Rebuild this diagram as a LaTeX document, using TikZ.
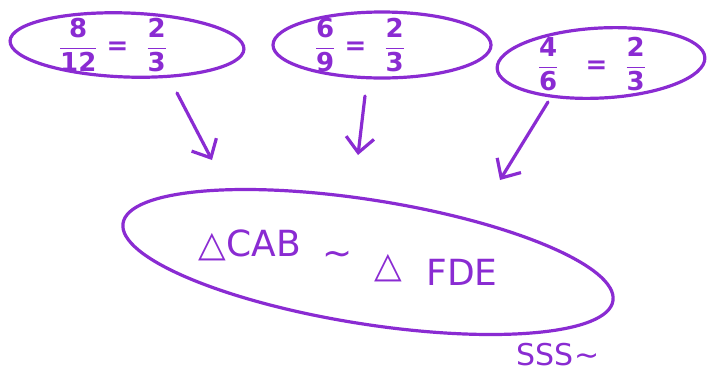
\documentclass[tikz,border=0pt]{standalone}
\usepackage{fontspec}
\usepackage{amsmath}
\setmainfont{DejaVu Sans}
\usetikzlibrary{shapes.geometric,arrows.meta}
\definecolor{pen}{RGB}{138,43,210}
\tikzset{
  blob/.style={draw=pen, line width=3.2pt, ellipse, inner sep=0pt, text=pen},
  arr/.style={draw=pen, line width=3.2pt, line cap=round, -{Straight Barb[length=15pt,width=28pt,line width=3.2pt]}},
  hand/.style={text=pen, inner sep=1pt, font=\fontsize{36}{38}\selectfont},
  frac/.style={text=pen, font=\fontsize{26}{28}\selectfont\bfseries}
}
\newcommand{\fr}[2]{\ensuremath{\dfrac{\text{#1}}{\text{#2}}}}
\begin{document}
\begin{tikzpicture}[x=1pt,y=-1pt]
\useasboundingbox (0,0) rectangle (707,373);
\node[blob, minimum width=234pt, minimum height=64pt, rotate=-2] (e1) at (127,45) {};
\node[blob, minimum width=218pt, minimum height=66pt] (e2) at (382,45) {};
\node[blob, minimum width=208pt, minimum height=70pt, rotate=3] (e3) at (601,63) {};
\node[frac] (t1) at (113,45) {\fr{8}{12}\ =\ \ \fr{2}{3}};
\node[frac] (t2) at (360,45) {\fr{6}{9}\ =\ \ \fr{2}{3}};
\node[frac] (t3) at (592,64) {\fr{4}{6}\ \ \ =\ \ \fr{2}{3}};
\node[blob, minimum width=496pt, minimum height=124pt, rotate=-9] (big) at (368,262) {};
\node[hand] (w1) at (250,245) {△CAB};
\node[hand] (w2) at (338,258) {∼};
\node[hand] (w3) at (388,268) {△};
\node[hand] (w4) at (462,272) {FDE};
\node[hand, font=\fontsize{30}{32}\selectfont] (sss) at (558,355) {SSS∼};
\coordinate (a1s) at (177,93);
\coordinate (a1e) at (212,160);
\coordinate (a2s) at (365,96);
\coordinate (a2e) at (358,155);
\coordinate (a3s) at (548,102);
\coordinate (a3e) at (500,180);
\draw[arr] (a1s) -- (a1e);
\draw[arr] (a2s) -- (a2e);
\draw[arr] (a3s) -- (a3e);
\end{tikzpicture}
\end{document}
